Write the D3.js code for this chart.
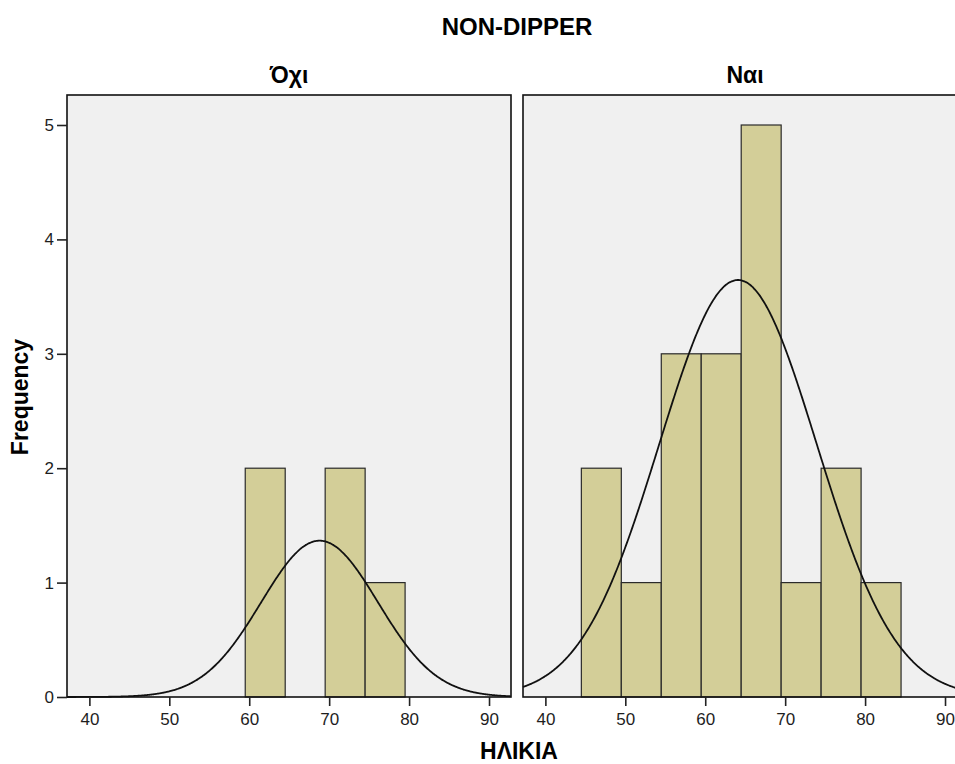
<!DOCTYPE html>
<html>
<head>
<meta charset="utf-8">
<script src="https://cdn.jsdelivr.net/npm/d3@7"></script>
<style>
  body { margin: 0; background: #ffffff; }
  svg { display: block; font-family: "Liberation Sans", Arial, sans-serif; }
  .tick text { font-size: 17px; font-family: "Liberation Sans", Arial, sans-serif; fill: #1e1e1e; }
</style>
</head>
<body>
<svg id="chart" width="955" height="764"></svg>
<script>
// Age histograms (5-year bins) split by NON-DIPPER status, with fitted normal curves
const panelNames = ["Όχι", "Ναι"];
const binStarts = [44.5, 49.5, 54.5, 59.5, 64.5, 69.5, 74.5, 79.5];
const countsNo  = [0, 0, 0, 2, 0, 2, 1, 0];
const countsYes = [2, 1, 3, 3, 5, 1, 2, 1];
const binWidth = 5;
const fitMean = [68.8, 64.1];
const fitSd   = [7.3, 9.85];
const xTicks = [40, 50, 60, 70, 80, 90];
const yTicks = [0, 1, 2, 3, 4, 5];

const svg = d3.select("#chart");
const plotTop = 95, plotBottom = 697;
const panelLeft = [67, 523];
const panelW = 444;

const y = d3.scaleLinear().domain([0, 5]).range([plotBottom, 125]);

svg.append("text")
  .attr("x", 517).attr("y", 35)
  .attr("text-anchor", "middle")
  .attr("font-weight", "bold").attr("font-size", 24)
  .text("NON-DIPPER");

const allCounts = [countsNo, countsYes];

panelNames.forEach((name, i) => {
  const x0 = panelLeft[i];
  const x = d3.scaleLinear().domain([37.2, 92.75]).range([x0, x0 + panelW]);
  const g = svg.append("g");

  // panel background
  g.append("rect")
    .attr("x", x0).attr("y", plotTop)
    .attr("width", panelW).attr("height", plotBottom - plotTop)
    .attr("fill", "#f0f0f0");

  // bars
  const bins = binStarts.map((s, k) => ({ s, c: allCounts[i][k] })).filter(d => d.c > 0);
  g.selectAll("rect.bar").data(bins).join("rect")
    .attr("class", "bar")
    .attr("x", d => x(d.s))
    .attr("y", d => y(d.c))
    .attr("width", d => x(d.s + binWidth) - x(d.s))
    .attr("height", d => y(0) - y(d.c))
    .attr("fill", "#d3ce98")
    .attr("stroke", "#2a2a2a")
    .attr("stroke-width", 1.2);

  // fitted normal curve scaled to counts
  const n = d3.sum(allCounts[i]);
  const m = fitMean[i], sd = fitSd[i];
  const dens = v => n * binWidth / (sd * Math.sqrt(2 * Math.PI)) * Math.exp(-0.5 * ((v - m) / sd) ** 2);
  const pts = d3.range(37.2, 92.8, 0.1).map(v => [v, dens(v)]);
  g.append("path")
    .datum(pts)
    .attr("fill", "none")
    .attr("stroke", "#111")
    .attr("stroke-width", 1.8)
    .attr("d", d3.line().x(d => x(d[0])).y(d => y(d[1])).curve(d3.curveBasis));

  // frame
  g.append("rect")
    .attr("x", x0).attr("y", plotTop)
    .attr("width", panelW).attr("height", plotBottom - plotTop)
    .attr("fill", "none")
    .attr("stroke", "#111").attr("stroke-width", 1.6);

  // x axis
  const xAxis = g.append("g")
    .attr("transform", `translate(0,${plotBottom})`)
    .call(d3.axisBottom(x).tickValues(xTicks).tickSize(9).tickPadding(7));
  xAxis.select(".domain").remove();
  xAxis.selectAll("line").attr("stroke", "#222").attr("stroke-width", 1.6);

  // panel heading
  svg.append("text")
    .attr("x", x0 + panelW / 2).attr("y", 83)
    .attr("text-anchor", "middle")
    .attr("font-weight", "bold").attr("font-size", 23)
    .text(name);
});

// y axis on the first panel
const yAxis = svg.append("g")
  .attr("transform", `translate(${panelLeft[0]},0)`)
  .call(d3.axisLeft(y).tickValues(yTicks).tickFormat(d3.format("d")).tickSize(10).tickPadding(3));
yAxis.select(".domain").remove();
yAxis.selectAll("line").attr("stroke", "#222").attr("stroke-width", 1.6);

svg.append("text")
  .attr("transform", "translate(28,397) rotate(-90)")
  .attr("text-anchor", "middle")
  .attr("font-weight", "bold").attr("font-size", 23)
  .text("Frequency");

svg.append("text")
  .attr("x", 519).attr("y", 759)
  .attr("text-anchor", "middle")
  .attr("font-weight", "bold").attr("font-size", 23)
  .text("ΗΛΙΚΙΑ");
</script>
</body>
</html>
